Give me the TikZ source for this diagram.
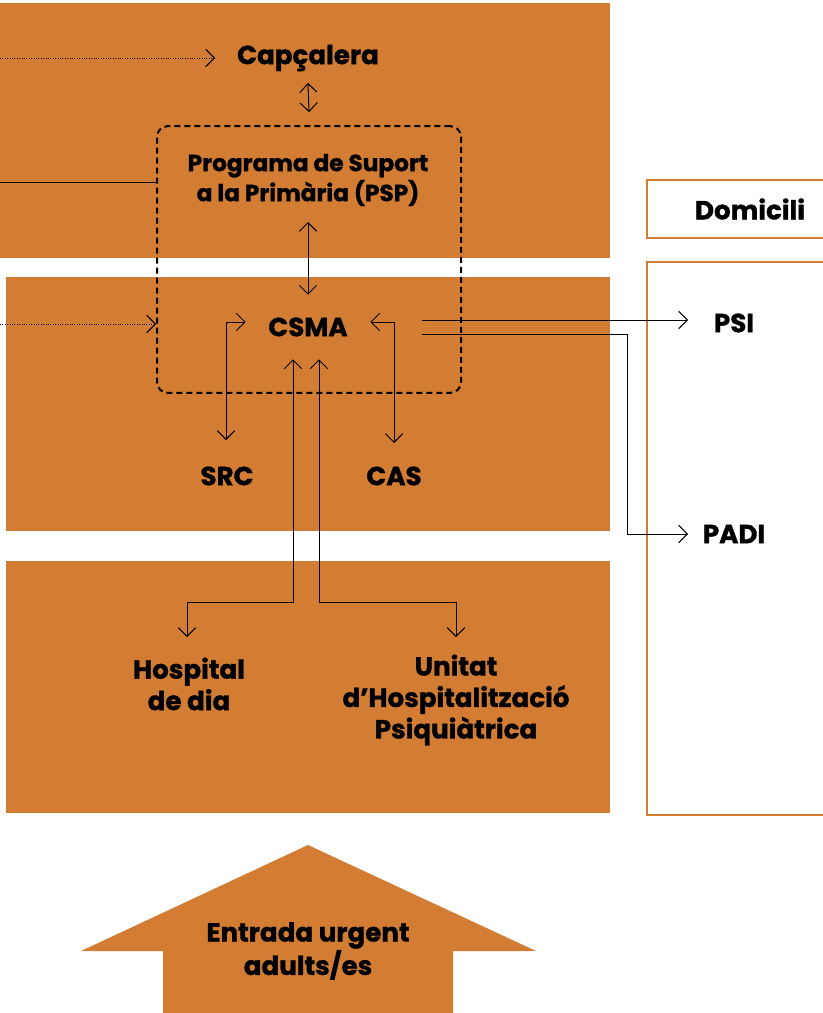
\documentclass[tikz,border=0pt]{standalone}
\usepackage{fontspec}
\setmainfont{Poppins}[BoldFeatures={FakeBold=1.2}]
\usetikzlibrary{arrows.meta,positioning}
\definecolor{ocre}{RGB}{211,124,51}

\begin{document}
\begin{tikzpicture}[x=0.75pt, y=-0.75pt,
    zone/.style={fill=ocre, draw=none},
    lbl/.style={font=\bfseries\fontsize{19.6}{23.6}\selectfont, align=center, inner sep=0pt},
    psplbl/.style={font=\bfseries\fontsize{17.4}{22.5}\selectfont, align=center, inner sep=0pt},
    dashbox/.style={draw, line width=1.5pt, dash pattern=on 4.5pt off 3pt, rounded corners=8pt},
    conn/.style={line width=0.75pt},
    dotline/.style={line width=0.6pt, dash pattern=on 0.6pt off 1.2pt},
    >={Straight Barb[length=6.5pt, width=13pt, line width=0.75pt]}]
    \useasboundingbox (0,0) rectangle (823,1013);
    % fondos
    \fill[zone] (0,3) rectangle (610,258);
    \fill[zone] (6,277) rectangle (610,531);
    \fill[zone] (6,561) rectangle (610,813);
    \draw[ocre, line width=1.5pt] (647,262) rectangle (860,815);
    \fill[zone] (308,845) -- (536,951) -- (453,951) -- (453,1013) -- (163,1013) -- (163,951) -- (81,951) -- cycle;

    % nodes
    \node[dashbox, minimum width=228pt, minimum height=200pt] (pspzone) at (309,259.5) {};
    \node[lbl] (capc) at (308,58) {Capçalera};
    \node[psplbl] (psp) at (308,180) {Programa de Suport\\a la Primària (PSP)};
    \node[lbl, minimum width=93pt, minimum height=48pt] (csma) at (308,327) {CSMA};
    \node[lbl] (src) at (227,476) {SRC};
    \node[lbl] (cas) at (394,476) {CAS};
    \node[lbl] (hosp) at (189,684) {Hospital\\de dia};
    \node[lbl] (uhp) at (456,700) {Unitat\\d’Hospitalització\\Psiquiàtrica};
    \node[lbl] (psi) at (734,323) {PSI};
    \node[lbl] (padi) at (734,534) {PADI};
    \node[lbl, draw=ocre, line width=1.5pt, fill=white, minimum width=154pt, minimum height=43pt] (domi) at (750,209) {Domicili};
    \node[lbl] (entrada) at (308,951) {Entrada urgent\\adults/es};

    \coordinate (inA) at (0,58);
    \coordinate (inB) at (0,182);
    \coordinate (inC) at (0,324);

    % connectors
    \draw[dotline, ->] (inA) -- ([shift={(-93,0)}]capc.center);
    \draw[conn, <->] ([shift={(0,25)}]capc.center) -- ([shift={(0,-13)}]pspzone.north);
    \draw[conn] (inB) -- (inB -| pspzone.west);
    \draw[dotline, ->] (inC) -- (inC -| pspzone.west);
    \draw[conn, <->] ([shift={(0,42)}]psp.center) -- (csma.north);
    \draw[conn, <->] ([shift={(0,-5)}]csma.west) -| ([shift={(-1,-36)}]src.center);
    \draw[conn, <->] ([shift={(0,-5)}]csma.east) -| ([shift={(0,-33)}]cas.center);
    \draw[conn, <->] ([shift={(-15,0)}]csma.south) |- ([shift={(-2,-82)}]hosp.center) -- ([shift={(-2,-47)}]hosp.center);
    \draw[conn, <->] ([shift={(11,0)}]csma.south) |- ([shift={(0,-98)}]uhp.center) -- ([shift={(0,-63)}]uhp.center);
    \draw[conn, ->] ([shift={(52,-7)}]csma.east) -- ([shift={(-46,-3)}]psi.center);
    \draw[conn, ->] ([shift={(52,7)}]csma.east) -| ([shift={(-107,0)}]padi.center) -- ([shift={(-46,0)}]padi.center);
\end{tikzpicture}
\end{document}
